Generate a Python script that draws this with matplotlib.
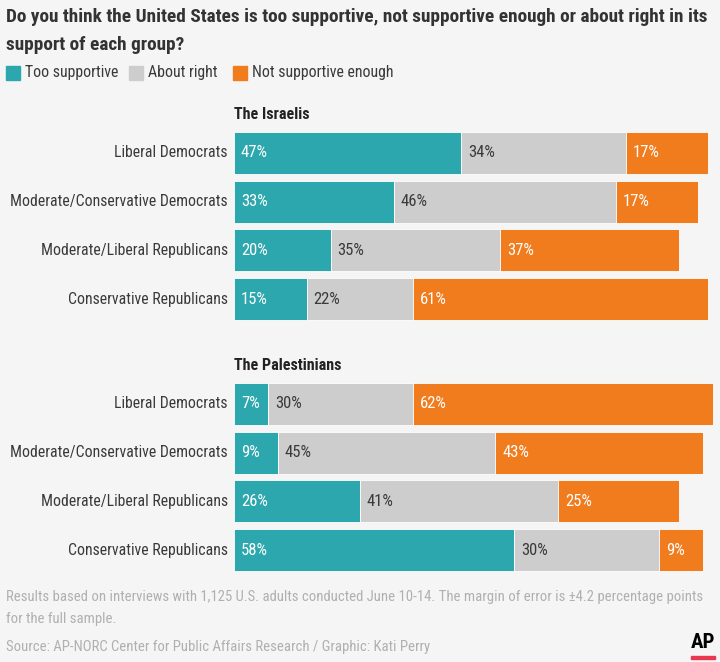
import matplotlib.pyplot as plt
from matplotlib.patches import Rectangle

# Datos
groups = ['Liberal Democrats', 'Moderate/Conservative Democrats',
          'Moderate/Liberal Republicans', 'Conservative Republicans']
responses = ['Too supportive', 'About right', 'Not supportive enough']

israelis_too = [47, 33, 20, 15]
israelis_right = [34, 46, 35, 22]
israelis_not = [17, 17, 37, 61]

palestinians_too = [7, 9, 26, 58]
palestinians_right = [30, 45, 41, 30]
palestinians_not = [62, 43, 25, 9]

colors = ['#2ca7ad', '#cdcdcd', '#f07c1e']
label_colors = ['white', '#3a3a3a', 'white']
bg = '#f5f5f5'

plt.rcParams['font.family'] = ['Roboto Condensed', 'Roboto', 'DejaVu Sans']

W, H = 720, 662
fig = plt.figure(figsize=(W / 100, H / 100), dpi=100, facecolor=bg)


def fx(x):
    return x / W


def fy(y):
    return 1 - y / H


def panel(top, title, too, right, notenough):
    pitch = 48.7
    ax = fig.add_axes([fx(234), fy(top + 4 * pitch), fx(483.5), 4 * pitch / H])
    ax.set_facecolor(bg)
    ys = range(len(groups))
    left = [0] * len(groups)
    for vals, c, tc in zip([too, right, notenough], colors, label_colors):
        ax.barh(ys, vals, left=left, height=0.86, color=c,
                edgecolor='white', linewidth=0.6)
        for y, v, l in zip(ys, vals, left):
            ax.annotate(f'{v}%', (l, y), xytext=(5, 0), textcoords='offset points',
                        va='center', ha='left', color=tc, fontsize=12)
        left = [a + b for a, b in zip(left, vals)]
    ax.set_xlim(0, 100)
    ax.set_ylim(3.5, -0.5)
    ax.axis('off')
    for y, g in zip(ys, groups):
        ax.annotate(g, (0, y), xytext=(-4.5, 0), textcoords='offset points',
                    va='center', ha='right', color='#3a3a3a', fontsize=11.3,
                    annotation_clip=False)
    fig.text(fx(234), fy(top - 14), title, fontsize=11.5, fontweight='bold',
             color='#222222', va='center', ha='left')


panel(128.6, 'The Israelis', israelis_too, israelis_right, israelis_not)
panel(379.6, 'The Palestinians', palestinians_too, palestinians_right, palestinians_not)

# Título
fig.text(fx(6), fy(17), 'Do you think the United States is too supportive, not supportive enough or about right in its',
         fontsize=13.9, fontweight='bold', color='#333333', va='center', ha='left')
fig.text(fx(6), fy(45), 'support of each group?',
         fontsize=13.9, fontweight='bold', color='#333333', va='center', ha='left')

# Leyenda
for sx, c, r in zip([6, 129, 233], colors, responses):
    fig.patches.append(Rectangle((fx(sx), fy(80)), fx(14), 14 / H, color=c,
                                 transform=fig.transFigure, figure=fig))
    fig.text(fx(sx + 19), fy(73), r, fontsize=11.4, color='#3a3a3a', va='center', ha='left')

# Notas
fig.text(fx(6), fy(597), 'Results based on interviews with 1,125 U.S. adults conducted June 10-14. The margin of error is \u00b14.2 percentage points',
         fontsize=10.6, color='#b0b0b0', va='center', ha='left')
fig.text(fx(6), fy(619), 'for the full sample.',
         fontsize=10.6, color='#b0b0b0', va='center', ha='left')
fig.text(fx(6), fy(647), 'Source: AP-NORC Center for Public Affairs Research / Graphic: Kati Perry',
         fontsize=10.6, color='#b0b0b0', va='center', ha='left')

# Logo AP
fig.text(fx(703), fy(643), 'AP', fontsize=15, fontweight='heavy', color='black',
         va='center', ha='center')
fig.patches.append(Rectangle((fx(691), fy(659)), fx(24), 3 / H, color='#e8384f',
                             transform=fig.transFigure, figure=fig))

fig.savefig('out.png', dpi=100, facecolor=bg)
